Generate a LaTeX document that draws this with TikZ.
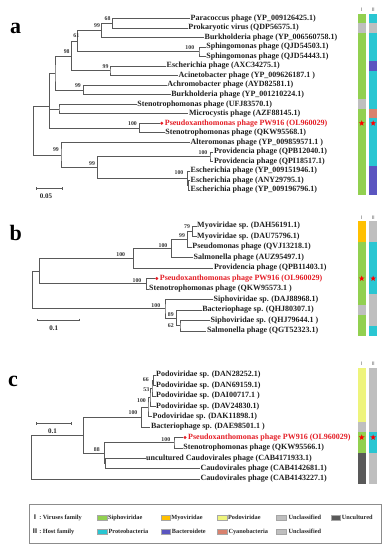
\documentclass[tikz,border=0pt]{standalone}
\usepackage{fontspec}
\setmainfont{Liberation Serif}
\newfontfamily\cjkf{Noto Sans CJK SC}
\usetikzlibrary{shapes.geometric}
\definecolor{csipho}{HTML}{92D050}
\definecolor{cmyo}{HTML}{FFC000}
\definecolor{cpodo}{HTML}{EEF47C}
\definecolor{cuncl}{HTML}{BFBFBF}
\definecolor{cuncu}{HTML}{595959}
\definecolor{cprot}{HTML}{2AC6D2}
\definecolor{cbact}{HTML}{5B55C0}
\definecolor{ccyano}{HTML}{D9826F}
\definecolor{cred}{HTML}{E41E26}
\newcommand\lff{\fontsize{8}{9}\selectfont\bfseries}
\newcommand\bsf{\fontsize{5.8}{6.5}\selectfont\bfseries}
\newcommand\sbf{\fontsize{7}{8}\selectfont\bfseries}
\newcommand\lgf{\fontsize{6.3}{7}\selectfont\bfseries}
\newcommand\pnf{\fontsize{22}{23}\selectfont\bfseries}
\newcommand\hdf{\fontsize{4.8}{5}\selectfont\cjkf}
\begin{document}
\begin{tikzpicture}[x=1pt,y=-1pt,
  br/.style={line width=0.6pt,draw=black!65},
  lf/.style={anchor=west,inner sep=0.5pt,font=\lff,text=black!88,text height=5.5pt,text depth=1.7pt},
  bs/.style={font=\bsf,inner sep=0,text=black!80},
  sbl/.style={font=\sbf,inner sep=0,text=black!85},
  dotn/.style={circle,fill=cred,inner sep=0,minimum size=3.3pt},
  strn/.style={star,star points=5,star point ratio=2.4,fill=red,inner sep=0,minimum size=6pt},
  pnl/.style={font=\pnf,anchor=base west,inner sep=0},
  hd/.style={font=\hdf,inner sep=0,text=black!70},
  sw/.style={draw=black!35,line width=0.3pt,minimum width=9.4pt,minimum height=5.6pt,inner sep=0},
  lgt/.style={font=\lgf,anchor=west,inner sep=0,text=black!85}]
\fill[white] (0,0) rectangle (389,550);
\useasboundingbox (0,0) rectangle (389,550);

% ---------------- panel a ----------------
\node[pnl] (pa) at (10,33.3) {a};
\node[lf] (a0) at (190,18.3) {Paracoccus phage (YP\_009126425.1)};
\node[lf] (a1) at (187.7,27.84) {Prokaryotic virus (QDP56575.1)};
\node[lf] (a2) at (204,37.38) {Burkholderia phage (YP\_006560758.1)};
\node[lf] (a3) at (205.7,46.92) {Sphingomonas phage (QJD54503.1)};
\node[lf] (a4) at (205.7,56.46) {Sphingomonas phage (QJD54443.1)};
\node[lf] (a5) at (166,66) {Escherichia phage (AXC34275.1)};
\node[lf] (a6) at (178,75.54) {Acinetobacter phage (YP\_009626187.1 )};
\node[lf] (a7) at (166.7,85.08) {Achromobacter phage (AYD82581.1)};
\node[lf] (a8) at (170.7,94.62) {Burkholderia phage (YP\_001210224.1)};
\node[lf] (a9) at (136.7,104.16) {Stenotrophomonas phage (UFJ83570.1)};
\node[lf] (a10) at (188.3,113.7) {Microcystis phage (AZF88145.1)};
\node[dotn] (ad) at (161.7,123.24) {};
\node[lf,text=cred] (a11) at (164.2,123.24) {Pseudoxanthomonas phage PW916 (OL960029)};
\node[lf] (a12) at (164.7,132.78) {Stenotrophomonas phage (QKW95568.1)};
\node[lf] (a13) at (190,142.32) {Alteromonas phage (YP\_009859571.1 )};
\node[lf] (a14) at (213.3,151.86) {Providencia phage (QPB12040.1)};
\node[lf] (a15) at (213.3,161.4) {Providencia phage (QPI18517.1)};
\node[lf] (a16) at (190,170.94) {Escherichia phage (YP\_009151946.1)};
\node[lf] (a17) at (190,180.48) {Escherichia phage (ANY29795.1)};
\node[lf] (a18) at (190,190.02) {Escherichia phage (YP\_009196796.1)};

\coordinate (a68) at (112.7,23.07);
\coordinate (a99) at (101.7,30.2);
\coordinate (asp) at (199,51.69);
\coordinate (a61) at (77.3,40.95);
\coordinate (aea) at (110,70.77);
\coordinate (a98) at (71.7,55.86);
\coordinate (aab) at (83.3,89.85);
\coordinate (a55) at (55,72.86);
\coordinate (asm) at (59,108.93);
\coordinate (aps) at (139.3,128.01);
\coordinate (a49) at (49.3,106);
\coordinate (apr) at (210,156.63);
\coordinate (aes2) at (188.7,185.25);
\coordinate (aes) at (187.7,178.1);
\coordinate (a97) at (97.7,167.4);
\coordinate (a61b) at (61,154.86);
\coordinate (aroot) at (33.3,130);

\draw[br] (a0.west) -| (a68) |- (a1.west);
\draw[br] (a68) -| (a99) |- (a2.west);
\draw[br] (a3.west) -| (asp) |- (a4.west);
\draw[br] (a99) -| (a61) |- (asp);
\draw[br] (a5.west) -| (aea) |- (a6.west);
\draw[br] (a61) -| (a98) |- (aea);
\draw[br] (a7.west) -| (aab) |- (a8.west);
\draw[br] (a98) -| (a55) |- (aab);
\draw[br] (a9.west) -| (asm) |- (a10.west);
\draw[br] (ad.west) -| (aps) |- (a12.west);
\draw[br] (a55) -| (a49) |- (aps);
\draw[br] (a49 |- asm) -- (asm);
\draw[br] (a14.west) -| (apr) |- (a15.west);
\draw[br] (a17.west) -| (aes2) |- (a18.west);
\draw[br] (a16.west) -| (aes) |- (aes2);
\draw[br] (apr) -| (a97) |- (aes);
\draw[br] (a13.west) -| (a61b) |- (a97);
\draw[br] (a49) -| (aroot) |- (a61b);

\node[bs] (ab1) at (107.5,19) {68};
\node[bs] (ab2) at (97,25.7) {99};
\node[bs] (ab3) at (76.3,35.7) {61};
\node[bs] (ab4) at (189.8,47.7) {100};
\node[bs] (ab5) at (66.7,51.7) {98};
\node[bs] (ab6) at (105.5,66.7) {99};
\node[bs] (ab7) at (78,85.7) {99};
\node[bs] (ab8) at (132.5,124) {100};
\node[bs] (ab9) at (56,150) {99};
\node[bs] (ab10) at (92,163.3) {99};
\node[bs] (ab11) at (203,152.7) {100};
\node[bs] (ab12) at (179,172.7) {100};

\coordinate (sa1) at (36,188.3);
\coordinate (sa2) at (62,188.3);
\draw[br] (sa1) -- (sa2);
\draw[br] ([yshift=1.3pt]sa1) -- ([yshift=-1.3pt]sa1);
\draw[br] ([yshift=1.3pt]sa2) -- ([yshift=-1.3pt]sa2);
\node[sbl] (sal) at (46,195.8) {0.05};

% strips a
\fill[csipho] (357.7,13.53) rectangle (365.7,23.07);
\fill[cuncl] (357.7,23.07) rectangle (365.7,32.61);
\fill[csipho] (357.7,32.61) rectangle (365.7,99.39);
\fill[cuncl] (357.7,99.39) rectangle (365.7,108.93);
\fill[csipho] (357.7,108.93) rectangle (365.7,194.79);
\fill[cprot] (369.3,13.53) rectangle (377,23.07);
\fill[cuncl] (369.3,23.07) rectangle (377,32.61);
\fill[cprot] (369.3,32.61) rectangle (377,61.23);
\fill[cbact] (369.3,61.23) rectangle (377,70.77);
\fill[cprot] (369.3,70.77) rectangle (377,108.93);
\fill[ccyano] (369.3,108.93) rectangle (377,118.47);
\fill[cprot] (369.3,118.47) rectangle (377,166.17);
\fill[cbact] (369.3,166.17) rectangle (377,194.79);
\node[strn] (as1) at (361.7,123.24) {};
\node[strn] (as2) at (373.15,123.24) {};
\node[hd] (ah1) at (361.7,9.5) {Ⅰ};
\node[hd] (ah2) at (373.15,9.5) {Ⅱ};

% ---------------- panel b ----------------
\node[pnl] (pb) at (9.5,240) {b};
\node[lf] (b0) at (196.5,226) {Myoviridae sp. (DAH56191.1)};
\node[lf] (b1) at (196.5,236.5) {Myoviridae sp. (DAU75796.1)};
\node[lf] (b2) at (191.7,247) {Pseudomonas phage (QVJ13218.1)};
\node[lf] (b3) at (193,257.5) {Salmonella phage (AUZ95497.1)};
\node[lf] (b4) at (213.3,268) {Providencia phage (QPB11403.1)};
\node[dotn] (bd) at (156.7,278.5) {};
\node[lf,text=cred] (b5) at (159.2,278.5) {Pseudoxanthomonas phage PW916 (OL960029)};
\node[lf] (b6) at (148.5,289) {Stenotrophomonas phage (QKW95573.1 )};
\node[lf] (b7) at (213,299.5) {Siphoviridae sp. (DAJ88968.1)};
\node[lf] (b8) at (201.7,310) {Bacteriophage sp. (QHJ80307.1)};
\node[lf] (b9) at (210,320.5) {Siphoviridae sp. (QHJ79644.1 )};
\node[lf] (b10) at (206.3,331) {Salmonella phage (QGT52323.1)};

\coordinate (b79) at (192.7,231.25);
\coordinate (b99) at (187.3,239.1);
\coordinate (bc1) at (171.7,248.3);
\coordinate (bc2) at (133.3,258.15);
\coordinate (bps) at (146.7,283.75);
\coordinate (bu) at (39.3,270.95);
\coordinate (b62) at (180,325.75);
\coordinate (b89) at (176.7,317.9);
\coordinate (bl) at (165,308.7);
\coordinate (broot) at (32.3,290);

\draw[br] (b0.west) -| (b79) |- (b1.west);
\draw[br] (b79) -| (b99) |- (b2.west);
\draw[br] (b99) -| (bc1) |- (b3.west);
\draw[br] (bc1) -| (bc2) |- (b4.west);
\draw[br] (bd.west) -| (bps) |- (b6.west);
\draw[br] (bc2) -| (bu) |- (bps);
\draw[br] (b9.west) -| (b62) |- (b10.west);
\draw[br] (b8.west) -| (b89) |- (b62);
\draw[br] (b7.west) -| (bl) |- (b89);
\draw[br] (bu) -| (broot) |- (bl);

\node[bs] (bb1) at (187,226.5) {79};
\node[bs] (bb2) at (182,235.8) {99};
\node[bs] (bb3) at (163,245.3) {100};
\node[bs] (bb4) at (120.8,255) {100};
\node[bs] (bb5) at (137,280.6) {100};
\node[bs] (bb6) at (155.8,305.5) {100};
\node[bs] (bb7) at (170.8,314.8) {89};
\node[bs] (bb8) at (170.8,325.3) {62};

\coordinate (sb1) at (37.3,320);
\coordinate (sb2) at (79,320);
\draw[br] (sb1) -- (sb2);
\draw[br] ([yshift=1.3pt]sb1) -- ([yshift=-1.3pt]sb1);
\draw[br] ([yshift=1.3pt]sb2) -- ([yshift=-1.3pt]sb2);
\node[sbl] (sbl1) at (53.7,327.8) {0.1};

% strips b
\fill[cmyo] (357.7,220.75) rectangle (365.7,241.75);
\fill[csipho] (357.7,241.75) rectangle (365.7,304.75);
\fill[cuncl] (357.7,304.75) rectangle (365.7,315.25);
\fill[csipho] (357.7,315.25) rectangle (365.7,336.25);
\fill[cuncl] (369.3,220.75) rectangle (377,241.75);
\fill[cprot] (369.3,241.75) rectangle (377,294.25);
\fill[cuncl] (369.3,294.25) rectangle (377,325.75);
\fill[cprot] (369.3,325.75) rectangle (377,336.25);
\node[strn] (bs1) at (361.7,278.5) {};
\node[strn] (bs2) at (373.15,278.5) {};
\node[hd] (bh1) at (361.7,217.3) {Ⅰ};
\node[hd] (bh2) at (373.15,217.3) {Ⅱ};

% ---------------- panel c ----------------
\node[pnl] (pc) at (8,386.7) {c};
\node[lf] (c0) at (155.5,375) {Podoviridae sp. (DAN28252.1)};
\node[lf] (c1) at (155.5,385.4) {Podoviridae sp. (DAN69159.1)};
\node[lf] (c2) at (155.5,395.8) {Podoviridae sp. (DAI00717.1 )};
\node[lf] (c3) at (155.5,406.2) {Podoviridae sp. (DAV24830.1)};
\node[lf] (c4) at (152,416.6) {Podoviridae sp. (DAK11898.1)};
\node[lf] (c5) at (150.3,427) {Bacteriophage sp. (DAE98501.1 )};
\node[dotn] (cd) at (185,437.4) {};
\node[lf,text=cred] (c6) at (187.5,437.4) {Pseudoxanthomonas phage PW916 (OL960029)};
\node[lf] (c7) at (182.7,447.8) {Stenotrophomonas phage (QKW95566.1)};
\node[lf] (c8) at (145.5,458.2) {uncultured Caudovirales phage (CAB4171933.1)};
\node[lf] (c9) at (200,468.6) {Caudovirales phage (CAB4142681.1)};
\node[lf] (c10) at (200,479) {Caudovirales phage (CAB4143227.1)};

\coordinate (c66) at (153.5,380.2);
\coordinate (c53) at (152,388);
\coordinate (cA) at (150,397.1);
\coordinate (cB) at (148,406.85);
\coordinate (cC) at (141.7,416.9);
\coordinate (cps) at (174,442.6);
\coordinate (cE) at (105.5,463.4);
\coordinate (cD) at (104.3,453);
\coordinate (cF) at (83.3,434.95);
\coordinate (croot) at (31.7,457);

\draw[br] (c0.west) -| (c66) |- (c1.west);
\draw[br] (c66) -| (c53) |- (c2.west);
\draw[br] (c53) -| (cA) |- (c3.west);
\draw[br] (cA) -| (cB) |- (c4.west);
\draw[br] (cB) -| (cC) |- (c5.west);
\draw[br] (cd.west) -| (cps) |- (c7.west);
\draw[br] (c8.west) -| (cE) |- (c9.west);
\draw[br] (cps) -| (cD) |- (cE);
\draw[br] (cC) -| (cF) |- (cD);
\draw[br] (cF) -| (croot) |- (c10.west);

\node[bs] (cb1) at (145.8,380) {66};
\node[bs] (cb2) at (146.3,389.3) {53};
\node[bs] (cb3) at (141.5,401) {100};
\node[bs] (cb4) at (133,412.5) {100};
\node[bs] (cb5) at (165.8,439.1) {100};
\node[bs] (cb6) at (96.8,450) {88};

\coordinate (sc1) at (36,423.3);
\coordinate (sc2) at (71.7,423.3);
\draw[br] (sc1) -- (sc2);
\draw[br] ([yshift=1.3pt]sc1) -- ([yshift=-1.3pt]sc1);
\draw[br] ([yshift=1.3pt]sc2) -- ([yshift=-1.3pt]sc2);
\node[sbl] (scl) at (52.5,430.8) {0.1};

% strips c
\fill[cpodo] (357.7,367.5) rectangle (365.7,421.8);
\fill[cuncl] (357.7,421.8) rectangle (365.7,432.2);
\fill[csipho] (357.7,432.2) rectangle (365.7,453);
\fill[cuncu] (357.7,453) rectangle (365.7,484.2);
\fill[cuncl] (369.3,367.5) rectangle (377,432.2);
\fill[cprot] (369.3,432.2) rectangle (377,453);
\fill[cuncl] (369.3,453) rectangle (377,484.2);
\node[strn] (cs1) at (361.7,437.4) {};
\node[strn] (cs2) at (373.15,437.4) {};
\node[hd] (ch1) at (361.7,363.5) {Ⅰ};
\node[hd] (ch2) at (373.15,363.5) {Ⅱ};

% ---------------- legend ----------------
\draw[draw=black!45,line width=0.6pt] (29.3,504) rectangle (381.7,543.3);
\node[lgt] (lg1) at (31.7,517.7) {{\cjkf Ⅰ}\,:\ Viruses family};
\node[sw,fill=csipho] (s1) at (102,517.7) {};
\node[lgt] (t1) at (107.8,517.7) {Siphoviridae};
\node[sw,fill=cmyo] (s2) at (165.5,517.7) {};
\node[lgt] (t2) at (171.2,517.7) {Myoviridae};
\node[sw,fill=cpodo] (s3) at (222,517.7) {};
\node[lgt] (t3) at (227.8,517.7) {Podoviridae};
\node[sw,fill=cuncl] (s4) at (281.3,517.7) {};
\node[lgt] (t4) at (288.3,517.7) {Unclassified};
\node[sw,fill=cuncu] (s5) at (335.5,517.7) {};
\node[lgt] (t5) at (341.7,517.7) {Uncultured};
\node[lgt] (lg2) at (31.7,531.7) {{\cjkf Ⅱ}\,:\ Host family};
\node[sw,fill=cprot] (s6) at (102,531.7) {};
\node[lgt] (t6) at (108.3,531.7) {Proteobacteria};
\node[sw,fill=cbact] (s7) at (165.5,531.7) {};
\node[lgt] (t7) at (171.7,531.7) {Bacteroidete};
\node[sw,fill=ccyano] (s8) at (222,531.7) {};
\node[lgt] (t8) at (228.3,531.7) {Cyanobacteria};
\node[sw,fill=cuncl] (s9) at (281.3,531.7) {};
\node[lgt] (t9) at (288.3,531.7) {Unclassified};
\end{tikzpicture}
\end{document}
